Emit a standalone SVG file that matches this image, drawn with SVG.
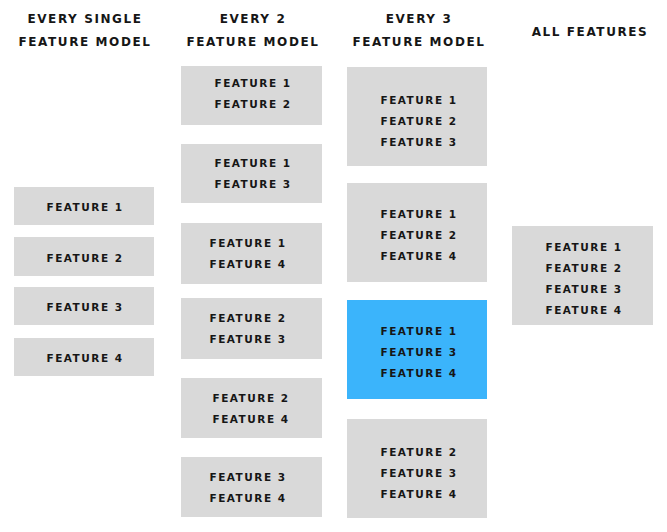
<svg xmlns="http://www.w3.org/2000/svg" width="667" height="532" viewBox="0 0 667 532">
<style>
.bg{fill:#ffffff}
.box{fill:#d9d9d9}
.hl{fill:#3bb4fb}
.t{font-family:"DejaVu Sans","Liberation Sans",sans-serif;font-weight:bold;font-size:10.5px;letter-spacing:1.5px;fill:#161616;text-anchor:middle}
.h{font-family:"DejaVu Sans","Liberation Sans",sans-serif;font-weight:bold;font-size:12px;letter-spacing:1.6px;fill:#161616;text-anchor:middle}
</style>
<rect class="bg" x="0" y="0" width="667" height="532"/>
<g id="headers">
<text class="h" x="85" y="23">EVERY SINGLE</text>
<text class="h" x="85" y="46">FEATURE MODEL</text>
<text class="h" x="253" y="23">EVERY 2</text>
<text class="h" x="253" y="46">FEATURE MODEL</text>
<text class="h" x="419" y="23">EVERY 3</text>
<text class="h" x="419" y="46">FEATURE MODEL</text>
<text class="h" x="590" y="36">ALL FEATURES</text>
</g>
<g id="connectors"></g>
<g id="c1n1"><rect class="box" x="14" y="187" width="140" height="38"/><text class="t" x="85" y="211">FEATURE 1</text></g>
<g id="c1n2"><rect class="box" x="14" y="237" width="140" height="39"/><text class="t" x="85" y="262">FEATURE 2</text></g>
<g id="c1n3"><rect class="box" x="14" y="287" width="140" height="38"/><text class="t" x="85" y="311">FEATURE 3</text></g>
<g id="c1n4"><rect class="box" x="14" y="338" width="140" height="38"/><text class="t" x="85" y="362">FEATURE 4</text></g>
<g id="c2n1"><rect class="box" x="181" y="66" width="141" height="59"/><text class="t" x="253" y="87">FEATURE 1</text><text class="t" x="253" y="108">FEATURE 2</text></g>
<g id="c2n2"><rect class="box" x="181" y="144" width="141" height="59"/><text class="t" x="253" y="167">FEATURE 1</text><text class="t" x="253" y="188">FEATURE 3</text></g>
<g id="c2n3"><rect class="box" x="181" y="223" width="141" height="61"/><text class="t" x="248" y="247">FEATURE 1</text><text class="t" x="248" y="268">FEATURE 4</text></g>
<g id="c2n4"><rect class="box" x="181" y="298" width="141" height="61"/><text class="t" x="248" y="322">FEATURE 2</text><text class="t" x="248" y="343">FEATURE 3</text></g>
<g id="c2n5"><rect class="box" x="181" y="378" width="141" height="60"/><text class="t" x="251" y="402">FEATURE 2</text><text class="t" x="251" y="423">FEATURE 4</text></g>
<g id="c2n6"><rect class="box" x="181" y="457" width="141" height="60"/><text class="t" x="248" y="481">FEATURE 3</text><text class="t" x="248" y="502">FEATURE 4</text></g>
<g id="c3n1"><rect class="box" x="347" y="67" width="140" height="99"/><text class="t" x="419" y="104">FEATURE 1</text><text class="t" x="419" y="125">FEATURE 2</text><text class="t" x="419" y="146">FEATURE 3</text></g>
<g id="c3n2"><rect class="box" x="347" y="183" width="140" height="99"/><text class="t" x="419" y="218">FEATURE 1</text><text class="t" x="419" y="239">FEATURE 2</text><text class="t" x="419" y="260">FEATURE 4</text></g>
<g id="c3n3"><rect class="hl" x="347" y="300" width="140" height="99"/><text class="t" x="419" y="335">FEATURE 1</text><text class="t" x="419" y="356">FEATURE 3</text><text class="t" x="419" y="377">FEATURE 4</text></g>
<g id="c3n4"><rect class="box" x="347" y="419" width="140" height="99"/><text class="t" x="419" y="456">FEATURE 2</text><text class="t" x="419" y="477">FEATURE 3</text><text class="t" x="419" y="498">FEATURE 4</text></g>
<g id="c4n1"><rect class="box" x="512" y="226" width="141" height="99"/><text class="t" x="584" y="251">FEATURE 1</text><text class="t" x="584" y="272">FEATURE 2</text><text class="t" x="584" y="293">FEATURE 3</text><text class="t" x="584" y="314">FEATURE 4</text></g>
</svg>
